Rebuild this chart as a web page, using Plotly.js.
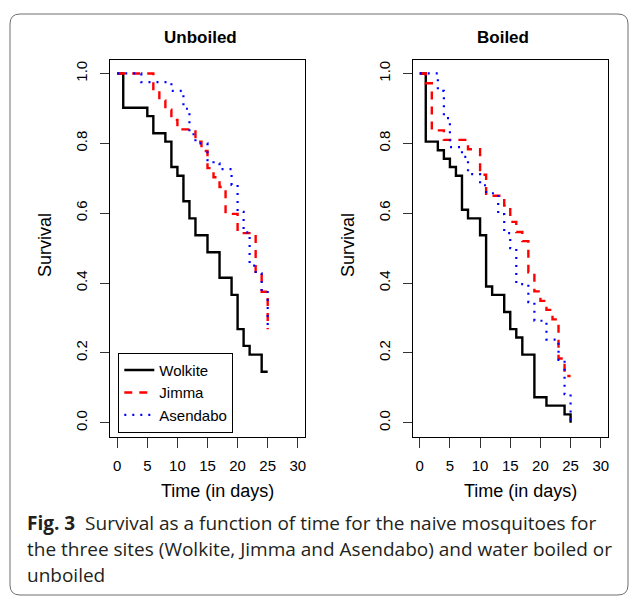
<!DOCTYPE html>
<html><head><meta charset="utf-8">
<script src="https://cdn.plot.ly/plotly-3.0.1.min.js"></script>
<style>html,body{margin:0;padding:0;background:#fff;} #chart{width:629px;height:596px;}</style>
</head><body><div id="chart"></div>
<script>
// ---- data (Kaplan-Meier survival) ----
const unboiledWolkiteDays = [0,1,5,6,8,9,10,11,12,13,15,17,19,20,21,22,24,25];
const unboiledWolkiteSurv = [1,0.902,0.878,0.829,0.805,0.732,0.707,0.634,0.585,0.537,0.488,0.415,0.366,0.268,0.220,0.195,0.146,0.146];

const unboiledJimmaDays = [0,6,7,8,9,10,13,14,15,16,17,18,20,23,24,25];
const unboiledJimmaSurv = [1,0.950,0.923,0.896,0.867,0.840,0.805,0.778,0.729,0.703,0.675,0.598,0.543,0.432,0.375,0.268];

const unboiledAsendaboDays = [0,4,9,11,12,13,15,16,17,19,20,21,22,23,24,25];
const unboiledAsendaboSurv = [1,0.975,0.950,0.899,0.826,0.800,0.752,0.743,0.726,0.681,0.604,0.545,0.450,0.428,0.380,0.268];

const boiledWolkiteDays = [0,1,3,4,5,6,7,8,10,11,12,14,15,16,17,19,21,24,25];
const boiledWolkiteSurv = [1,0.805,0.780,0.756,0.732,0.707,0.610,0.585,0.537,0.390,0.366,0.317,0.268,0.244,0.195,0.073,0.049,0.024,0];

const boiledJimmaDays = [0,1,2,4,8,10,11,14,15,16,17,18,19,20,21,22,23,24,25];
const boiledJimmaSurv = [1,0.972,0.837,0.810,0.783,0.710,0.650,0.622,0.575,0.546,0.520,0.431,0.376,0.349,0.323,0.296,0.184,0.134,0.134];

const boiledAsendaboDays = [0,3,4,5,7,8,10,11,13,14,15,16,18,19,21,23,24,25];
const boiledAsendaboSurv = [1,0.950,0.872,0.789,0.761,0.712,0.680,0.657,0.597,0.543,0.500,0.397,0.345,0.292,0.238,0.180,0.082,0.0];

const siteNames = ['Wolkite','Jimma','Asendabo'];
const panelTitles = ['Unboiled','Boiled'];
const xTickVals = [0,5,10,15,20,25,30];
const yTickVals = [0,0.2,0.4,0.6,0.8,1.0];
const yTickText = ['0.0','0.2','0.4','0.6','0.8','1.0'];
const xLabel = 'Time (in days)';
const yLabel = 'Survival';
const captionLines = [
  '<b>Fig. 3</b>\u00a0\u00a0Survival as a function of time for the naive mosquitoes for',
  'the three sites (Wolkite, Jimma and Asendabo) and water boiled or',
  'unboiled'
];

// ---- layout helpers ----
const W = 629, H = 596;
const px = x => x / W;
const py = y => 1 - y / H;
const FONT = 'Liberation Sans, Arial, Helvetica, sans-serif';

const styles = [
  {color:'#000000', width:2.4, dash:'solid'},
  {color:'#ff0000', width:2.4, dash:'8px,7px'},
  {color:'#0000ff', width:2.2, dash:'2px,6px'}
];

const panels = [
  {days:[unboiledWolkiteDays, unboiledJimmaDays, unboiledAsendaboDays],
   surv:[unboiledWolkiteSurv, unboiledJimmaSurv, unboiledAsendaboSurv], xa:'x', ya:'y', legend:true},
  {days:[boiledWolkiteDays, boiledJimmaDays, boiledAsendaboDays],
   surv:[boiledWolkiteSurv, boiledJimmaSurv, boiledAsendaboSurv], xa:'x2', ya:'y2', legend:false}
];

const traces = [];
panels.forEach(p => {
  for (let i = 0; i < 3; i++) {
    traces.push({
      type:'scatter', mode:'lines',
      x:p.days[i], y:p.surv[i],
      name:siteNames[i],
      xaxis:p.xa, yaxis:p.ya,
      showlegend:p.legend,
      line:{shape:'hv', color:styles[i].color, width:styles[i].width, dash:styles[i].dash},
      hoverinfo:'skip'
    });
  }
});

function xAxis(d0, d1, anchor) {
  return {
    domain:[px(d0), px(d1)], range:[-1.2, 31.2], anchor:anchor,
    tickmode:'array', tickvals:xTickVals,
    ticks:'outside', ticklen:10, tickwidth:1, tickcolor:'#333',
    ticklabelstandoff:5,
    showline:true, mirror:true, linecolor:'#000', linewidth:1,
    showgrid:false, zeroline:false,
    tickfont:{size:15, family:FONT, color:'#000'}
  };
}
function yAxis(anchor) {
  return {
    domain:[py(436.7), py(59.5)], range:[-0.04, 1.04], anchor:anchor,
    tickmode:'array', tickvals:yTickVals, ticktext:yTickText, tickangle:-90,
    ticks:'outside', ticklen:9, tickwidth:1, tickcolor:'#333',
    ticklabelstandoff:7,
    showline:true, mirror:true, linecolor:'#000', linewidth:1,
    showgrid:false, zeroline:false,
    tickfont:{size:15, family:FONT, color:'#000'}
  };
}

function ann(text, x, y, opts) {
  return Object.assign({xref:'paper', yref:'paper', x:px(x), y:py(y), text:text,
    showarrow:false, xanchor:'center', yanchor:'middle',
    font:{family:FONT, size:18, color:'#000'}}, opts || {});
}

const annotations = [
  ann('<b>' + panelTitles[0] + '</b>', 200, 38, {font:{family:FONT, size:17, color:'#000'}}),
  ann('<b>' + panelTitles[1] + '</b>', 503, 38, {font:{family:FONT, size:17, color:'#000'}}),
  ann(xLabel, 217, 491),
  ann(xLabel, 520, 491),
  ann(yLabel, 45, 245, {textangle:-90}),
  ann(yLabel, 348, 245, {textangle:-90})
];
const capY = [523, 549, 575];
captionLines.forEach((t, i) => {
  annotations.push(ann(t, 25, capY[i], {xanchor:'left',
    font:{family:'Open Sans, Noto Sans, sans-serif', size:19, color:'#231f20'}}));
});

// rounded frame around the figure
const L = 10, T = 14, R = 628, B = 595, r = 10;
const P = (x, y) => px(x) + ',' + py(y);
const framePath = 'M' + P(L, B - r) + ' L' + P(L, T + r) + ' Q' + P(L, T) + ' ' + P(L + r, T) +
  ' L' + P(R - r, T) + ' Q' + P(R, T) + ' ' + P(R, T + r) +
  ' L' + P(R, B - r) + ' Q' + P(R, B) + ' ' + P(R - r, B) +
  ' L' + P(L + r, B) + ' Q' + P(L, B) + ' ' + P(L, B - r) + ' Z';

const layout = {
  width:W, height:H,
  margin:{l:0, r:0, t:0, b:0},
  paper_bgcolor:'#fff', plot_bgcolor:'#fff',
  font:{family:FONT, color:'#000'},
  xaxis:xAxis(110, 305, 'y'),
  yaxis:yAxis('x'),
  xaxis2:xAxis(412.5, 608, 'y2'),
  yaxis2:yAxis('x2'),
  showlegend:true,
  legend:{x:px(118.3), y:py(352.7), xanchor:'left', yanchor:'top',
    bgcolor:'#fff', bordercolor:'#000', borderwidth:1,
    font:{size:15, family:FONT, color:'#000'}, tracegroupgap:0, itemwidth:30},
  annotations:annotations,
  shapes:[{type:'path', xref:'paper', yref:'paper', path:framePath,
    line:{color:'#6d6e71', width:1}, fillcolor:'rgba(0,0,0,0)', layer:'below'}]
};

Plotly.newPlot('chart', traces, layout, {staticPlot:true, displayModeBar:false});
</script>
</body></html>
